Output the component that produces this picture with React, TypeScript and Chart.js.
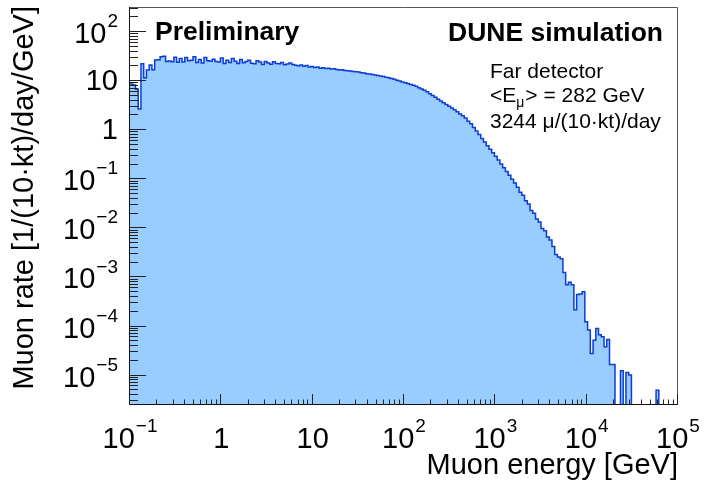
import React, { useEffect, useRef } from 'react';
import { Chart, registerables } from 'chart.js';

Chart.register(...registerables);

// Histogram binning: 200 equal bins in log10(E/GeV) from 10^-1 to 10^5
const LOG_E_MIN = -1;
const LOG_E_MAX = 5;
const N_BINS = 200;

// Muon rate per bin [1/(10 kt)/day/GeV]; 0 = empty bin
const muonRate = [
  8.4, 8.0, 6.5, 2.6, 21.5, 11.2, 16.2, 20.5, 16.3, 25.8,
  26.2, 30.2, 30.8, 24.0, 24.5, 23.8, 29.5, 23.2, 27.8, 23.5,
  29.0, 24.8, 25.5, 30.0, 23.0, 26.5, 22.5, 29.0, 25.0, 24.2,
  26.8, 24.0, 23.6, 28.2, 22.0, 25.6, 23.0, 27.5, 24.2, 21.8,
  26.5, 22.6, 24.0, 25.4, 22.2, 21.6, 24.8, 23.5, 20.8, 24.0,
  22.5, 21.2, 23.8, 22.0, 21.5, 22.8, 20.6, 21.4, 22.5, 20.8,
  20.2, 19.6, 20.4, 19.2, 19.8, 18.6, 19.0, 18.2, 18.6, 17.6,
  17.9, 17.2, 17.5, 16.8, 17.0, 16.5, 16.2, 16.4, 15.8, 15.6,
  15.3, 15.0, 14.8, 14.6, 14.1, 14.0, 13.6, 13.4, 13.0, 12.8,
  12.5, 12.2, 11.9, 11.5, 11.2, 10.8, 10.4, 10.0, 9.6, 9.2,
  8.9, 8.6, 8.2, 7.9, 7.5, 7.0, 6.6, 6.2, 5.8, 5.3,
  4.9, 4.5, 4.1, 3.75, 3.45, 3.2, 2.95, 2.72, 2.5, 2.28,
  2.05, 1.88, 1.70, 1.46, 1.30, 1.08, 0.92, 0.78, 0.65, 0.55,
  0.46, 0.39, 0.33, 0.28, 0.235, 0.195, 0.165, 0.138, 0.115, 0.096,
  0.080, 0.066, 0.052, 0.045, 0.035, 0.030, 0.022, 0.0195, 0.0148, 0.0128,
  0.0095, 0.0085, 0.0064, 0.0055, 0.0041, 0.0028, 0.0025, 0.0023, 0.0012, 0.00068,
  0.00076, 0.00068, 0.00021, 0.00043, 0.00044, 0.00049, 0.00012, 0.000081, 0.000027, 0.00005,
  0.000087, 0.000065, 0.000059, 0.000037, 0.000052, 0.000016, 0.000016, 0, 0, 0.000012,
  0, 0.000011, 0.0000098, 0, 0, 0, 0, 0, 0, 0,
  0, 0, 0.0000048, 0, 0, 0, 0, 0, 0, 0,
];

// Axis ranges
const X_MIN = 0.1;
const X_MAX = 1e5;
const Y_MIN = 2.4e-6;
const Y_MAX = 310;

// Decade tick values and their labels as [mantissa, exponent]
const xTickValues = [0.1, 1, 10, 100, 1000, 1e4, 1e5];
const xTickLabels: [string, string][] = [
  ['10', '\u22121'], ['1', ''], ['10', ''], ['10', '2'], ['10', '3'], ['10', '4'], ['10', '5'],
];
const yTickValues = [1e-5, 1e-4, 1e-3, 1e-2, 0.1, 1, 10, 100];
const yTickLabels: [string, string][] = [
  ['10', '\u22125'], ['10', '\u22124'], ['10', '\u22123'], ['10', '\u22122'],
  ['10', '\u22121'], ['1', ''], ['10', ''], ['10', '2'],
];

const xTitle = 'Muon energy [GeV]';
const yTitle = 'Muon rate [1/(10\u00b7kt)/day/GeV]';
const prelimText = 'Preliminary';
const simText = 'DUNE simulation';
const infoDetector = 'Far detector';
const infoMeanE = ['<E', '\u03bc', '> = 282 GeV'];
const infoRate = '3244 \u03bc/(10\u00b7kt)/day';

const FONT = "'Liberation Sans', Arial, Helvetica, sans-serif";

function drawPower(
  ctx: CanvasRenderingContext2D,
  base: string,
  exp: string,
  x: number,
  y: number,
  align: 'left' | 'center' | 'right',
  size: number,
) {
  const expSize = Math.round(size * 0.64);
  ctx.font = `${size}px ${FONT}`;
  const wb = ctx.measureText(base).width;
  ctx.font = `${expSize}px ${FONT}`;
  const we = exp ? ctx.measureText(exp).width + 1 : 0;
  const total = wb + we;
  const x0 = align === 'left' ? x : align === 'center' ? x - total / 2 : x - total;
  ctx.textAlign = 'left';
  ctx.textBaseline = 'alphabetic';
  ctx.font = `${size}px ${FONT}`;
  ctx.fillText(base, x0, y);
  if (exp) {
    ctx.font = `${expSize}px ${FONT}`;
    ctx.fillText(exp, x0 + wb + 1, y - size * 0.55);
  }
}

const minorMultipliers = [2, 3, 4, 5, 6, 7, 8, 9];

const rootAxes = {
  id: 'rootAxes',
  afterDatasetsDraw(chart: any) {
    const { ctx, chartArea: a, scales } = chart;
    const xs = scales.x;
    const ys = scales.y;
    ctx.save();

    // frame
    ctx.lineWidth = 1;
    ctx.strokeStyle = '#555';
    ctx.beginPath();
    ctx.moveTo(a.left, a.top + 0.5);
    ctx.lineTo(a.right - 0.5, a.top + 0.5);
    ctx.lineTo(a.right - 0.5, a.bottom);
    ctx.stroke();

    // axis lines
    ctx.strokeStyle = '#111';
    ctx.beginPath();
    ctx.moveTo(a.left - 0.5, a.top);
    ctx.lineTo(a.left - 0.5, a.bottom - 0.5);
    ctx.lineTo(a.right, a.bottom - 0.5);
    ctx.stroke();

    // y ticks (inside the frame)
    ctx.strokeStyle = '#222';
    ctx.beginPath();
    for (let d = -6; d <= 2; d++) {
      const dec = Math.pow(10, d);
      for (const m of [1, ...minorMultipliers]) {
        const v = m * dec;
        if (v < Y_MIN || v > Y_MAX) continue;
        const py = Math.round(ys.getPixelForValue(v)) + 0.5;
        const len = m === 1 ? 16 : 8;
        ctx.moveTo(a.left, py);
        ctx.lineTo(a.left + len, py);
      }
    }
    // x ticks
    for (let d = -1; d <= 5; d++) {
      const dec = Math.pow(10, d);
      for (const m of [1, ...minorMultipliers]) {
        const v = m * dec;
        if (v < X_MIN || v > X_MAX) continue;
        const px = Math.round(xs.getPixelForValue(v)) - 0.5;
        const len = m === 1 ? 11 : 5.5;
        ctx.moveTo(px, a.bottom);
        ctx.lineTo(px, a.bottom - len);
      }
    }
    ctx.stroke();

    ctx.fillStyle = '#000';
    // y labels
    yTickValues.forEach((v, i) => {
      const [b, e] = yTickLabels[i];
      const py = ys.getPixelForValue(v);
      drawPower(ctx, b, e, 118, py + (e ? 12 : 10), 'right', 29);
    });
    // x labels
    xTickValues.forEach((v, i) => {
      const [b, e] = xTickLabels[i];
      const px = xs.getPixelForValue(v);
      drawPower(ctx, b, e, px, 448, 'center', 29);
    });

    // axis titles
    ctx.font = `29px ${FONT}`;
    ctx.textAlign = 'right';
    ctx.textBaseline = 'alphabetic';
    ctx.fillText(xTitle, a.right, 474);
    ctx.save();
    ctx.translate(33, a.top - 1);
    ctx.rotate(-Math.PI / 2);
    ctx.fillText(yTitle, 0, 0);
    ctx.restore();

    // labels inside the frame
    ctx.font = `bold 26.5px ${FONT}`;
    ctx.textAlign = 'left';
    ctx.fillText(prelimText, 155, 40);
    ctx.textAlign = 'right';
    ctx.fillText(simText, 663, 41);

    ctx.textAlign = 'left';
    ctx.font = `21px ${FONT}`;
    ctx.fillText(infoDetector, 490, 78);
    let x = 490;
    ctx.fillText(infoMeanE[0], x, 102);
    x += ctx.measureText(infoMeanE[0]).width;
    ctx.font = `14px ${FONT}`;
    ctx.fillText(infoMeanE[1], x, 107);
    x += ctx.measureText(infoMeanE[1]).width + 1;
    ctx.font = `21px ${FONT}`;
    ctx.fillText(infoMeanE[2], x, 102);
    ctx.fillText(infoRate, 490, 128);

    ctx.restore();
  },
};

export default function App() {
  const canvasRef = useRef<HTMLCanvasElement | null>(null);

  useEffect(() => {
    const canvas = canvasRef.current;
    if (!canvas) return;
    const binWidth = (LOG_E_MAX - LOG_E_MIN) / N_BINS;
    const floor = Y_MIN / 100;
    // one point per lower bin edge, held until the next edge, closed at the upper end
    const points = muonRate.map((r, k) => ({
      x: Math.pow(10, LOG_E_MIN + k * binWidth),
      y: r > 0 ? r : floor,
    }));
    points.push({ x: Math.pow(10, LOG_E_MAX), y: floor });

    const chart = new Chart(canvas, {
      type: 'line',
      data: {
        datasets: [
          {
            data: points,
            stepped: 'before',
            fill: 'start',
            backgroundColor: '#99ccff',
            borderColor: '#0a3cd6',
            borderWidth: 1.5,
            pointRadius: 0,
            tension: 0,
          },
        ],
      },
      options: {
        responsive: false,
        maintainAspectRatio: false,
        animation: false,
        devicePixelRatio: 1,
        layout: { padding: { left: 130, right: 42, top: 7, bottom: 77 } },
        plugins: { legend: { display: false }, tooltip: { enabled: false } },
        scales: {
          x: { type: 'logarithmic', min: X_MIN, max: X_MAX, display: false },
          y: { type: 'logarithmic', min: Y_MIN, max: Y_MAX, display: false },
        },
      },
      plugins: [rootAxes],
    });
    return () => chart.destroy();
  }, []);

  return (
    <div style={{ position: 'absolute', left: 0, top: 0, width: 720, height: 482, background: '#fff' }}>
      <canvas ref={canvasRef} width={720} height={482} style={{ display: 'block' }} />
    </div>
  );
}
